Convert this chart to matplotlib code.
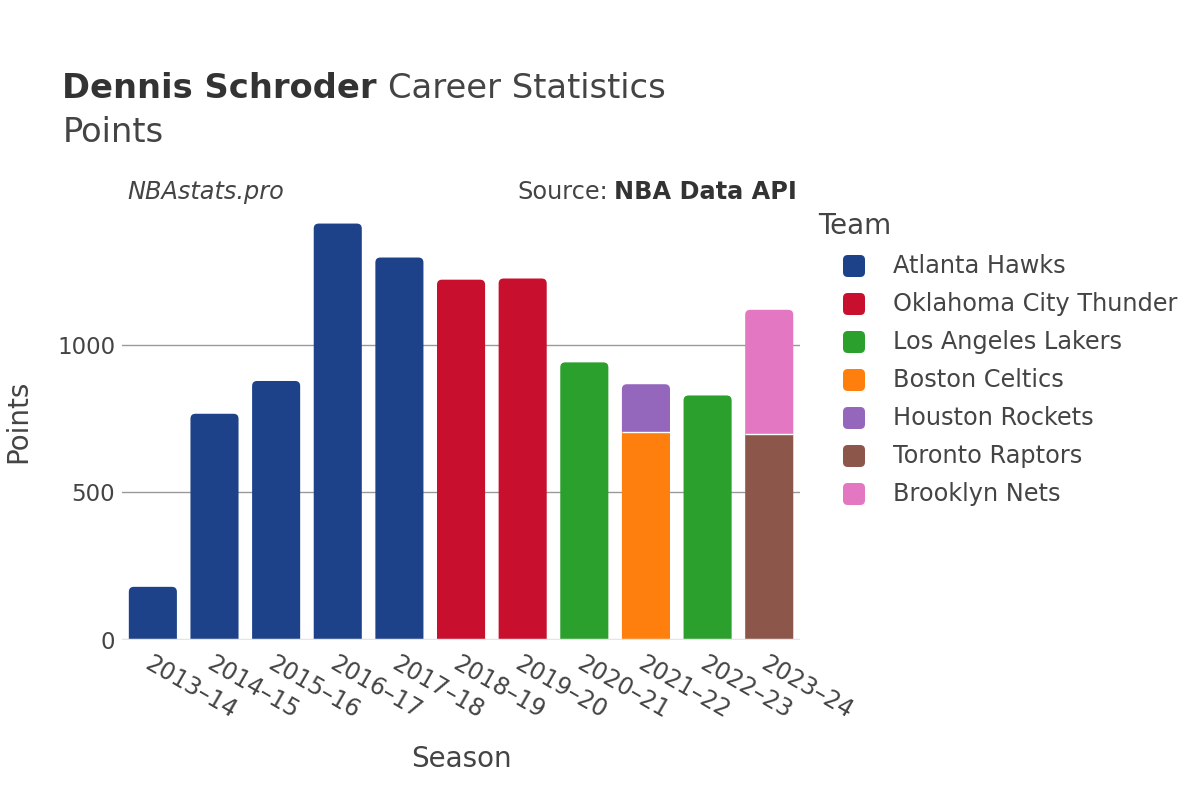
import numpy as np
import matplotlib.pyplot as plt
from matplotlib.patches import FancyBboxPatch, PathPatch
from matplotlib.path import Path

seasons = ["2013–14", "2014–15", "2015–16", "2016–17", "2017–18", "2018–19",
           "2019–20", "2020–21", "2021–22", "2022–23", "2023–24"]
teams = ["Atlanta Hawks", "Oklahoma City Thunder", "Los Angeles Lakers",
         "Boston Celtics", "Houston Rockets", "Toronto Raptors", "Brooklyn Nets"]
colors = ["#1d428a", "#c8102e", "#2ca02c", "#ff7f0e", "#9467bd", "#8c564b", "#e377c2"]

atl = [180, 766, 877, 1410, 1295, 0, 0, 0, 0, 0, 0]
okc = [0, 0, 0, 0, 0, 1220, 1224, 0, 0, 0, 0]
lal = [0, 0, 0, 0, 0, 0, 0, 940, 0, 828, 0]
bos = [0, 0, 0, 0, 0, 0, 0, 0, 704, 0, 0]
hou = [0, 0, 0, 0, 0, 0, 0, 0, 162, 0, 0]
tor = [0, 0, 0, 0, 0, 0, 0, 0, 0, 0, 697]
bkn = [0, 0, 0, 0, 0, 0, 0, 0, 0, 0, 421]
series = [atl, okc, lal, bos, hou, tor, bkn]

txt = "#444444"
fig = plt.figure(figsize=(12, 8), dpi=100)
ax = fig.add_axes([0.1017, 0.2, 0.565, 0.5475])
ymax = 1483
ax.set_xlim(-0.5, len(seasons) - 0.5)
ax.set_ylim(0, ymax)

# data units per pixel, so the rounded corners look round
px_x = len(seasons) / (0.565 * 1200)
px_y = ymax / (0.5475 * 800)
rx, ry = 5 * px_x, 5 * px_y
w = 0.78


def rounded_top(x0, y0, wd, h):
    x1, y1 = x0 + wd, y0 + h
    verts = [(x0, y0), (x1, y0), (x1, y1 - ry), (x1, y1), (x1 - rx, y1),
             (x0 + rx, y1), (x0, y1), (x0, y1 - ry), (x0, y0)]
    codes = [Path.MOVETO, Path.LINETO, Path.LINETO, Path.CURVE3, Path.CURVE3,
             Path.LINETO, Path.CURVE3, Path.CURVE3, Path.CLOSEPOLY]
    return Path(verts, codes)


x = np.arange(len(seasons))
data = np.array(series, dtype=float)
totals = data.sum(axis=0)
bottom = np.zeros(len(seasons))
for vals, c in zip(data, colors):
    m = vals > 0
    bars = ax.bar(x[m], vals[m], w, bottom=bottom[m], color=c, linewidth=0,
                  zorder=3, snap=False)
    for b in bars:
        top = b.get_y() + b.get_height()
        i = int(round(b.get_x() + w / 2))
        if np.isclose(top, totals[i]):
            b.set_visible(False)
            ax.add_patch(PathPatch(rounded_top(b.get_x(), b.get_y(), w, b.get_height()),
                                   facecolor=c, edgecolor="none", zorder=3))
        if b.get_y() > 0:
            ax.plot([b.get_x(), b.get_x() + w], [b.get_y()] * 2,
                    color="white", linewidth=1, zorder=4, solid_capstyle="butt")
    bottom += vals

ax.set_yticks([0, 500, 1000])
ax.set_yticklabels(["0", "500", "1000"])
ax.grid(axis="y", color="#999999", linewidth=1, zorder=0)
ax.axhline(0, color="#e5e5e5", linewidth=2.5, zorder=4)
for s in ax.spines.values():
    s.set_visible(False)
ax.tick_params(length=0, labelsize=16.5, labelcolor=txt)
ax.tick_params(axis="y", pad=5)
ax.set_xticks(x)
ax.set_xticklabels(seasons, rotation=-30, ha="left", va="top",
                   rotation_mode="anchor", fontsize=17)
ax.tick_params(axis="x", pad=8)
ax.set_xlabel("Season", fontsize=20, color=txt, labelpad=16)
ax.set_ylabel("Points", fontsize=20, color=txt, labelpad=18)

# title
t1 = fig.text(0.052, 0.889, "Dennis Schroder", fontsize=24.3, fontweight="bold",
              color="#333333", va="center")
fig.canvas.draw()
bb = t1.get_window_extent()
fig.text(bb.x1 / 1200 + 0.009, 0.889, "Career Statistics", fontsize=24.3,
         color=txt, va="center")
fig.text(0.052, 0.834, "Points", fontsize=24.3, color=txt, va="center")

fig.text(0.106, 0.76, "NBAstats.pro", fontsize=17.3, style="italic",
         color=txt, va="center")
s1 = fig.text(0.664, 0.76, "NBA Data API", fontsize=17.3, fontweight="bold",
              color="#333333", va="center", ha="right")
fig.canvas.draw()
bb2 = s1.get_window_extent()
fig.text(bb2.x0 / 1200 - 0.005, 0.76, "Source:", fontsize=17.3,
         color=txt, va="center", ha="right")

# legend
fig.text(818 / 1200, 1 - 226 / 800, "Team", fontsize=20, color=txt, va="center")
for k, (team, c) in enumerate(zip(teams, colors)):
    yc = 1 - (266 + 38 * k) / 800
    fig.patches.append(FancyBboxPatch((843 / 1200, yc - 11 / 800), 22 / 1200, 22 / 800,
                                      boxstyle="round,pad=0,rounding_size=0.004",
                                      mutation_aspect=1.5, transform=fig.transFigure,
                                      facecolor=c, edgecolor="none", figure=fig))
    fig.text(893 / 1200, yc, team, fontsize=17.3, color=txt, va="center")

fig.savefig("out.png", dpi=100, facecolor="white")
